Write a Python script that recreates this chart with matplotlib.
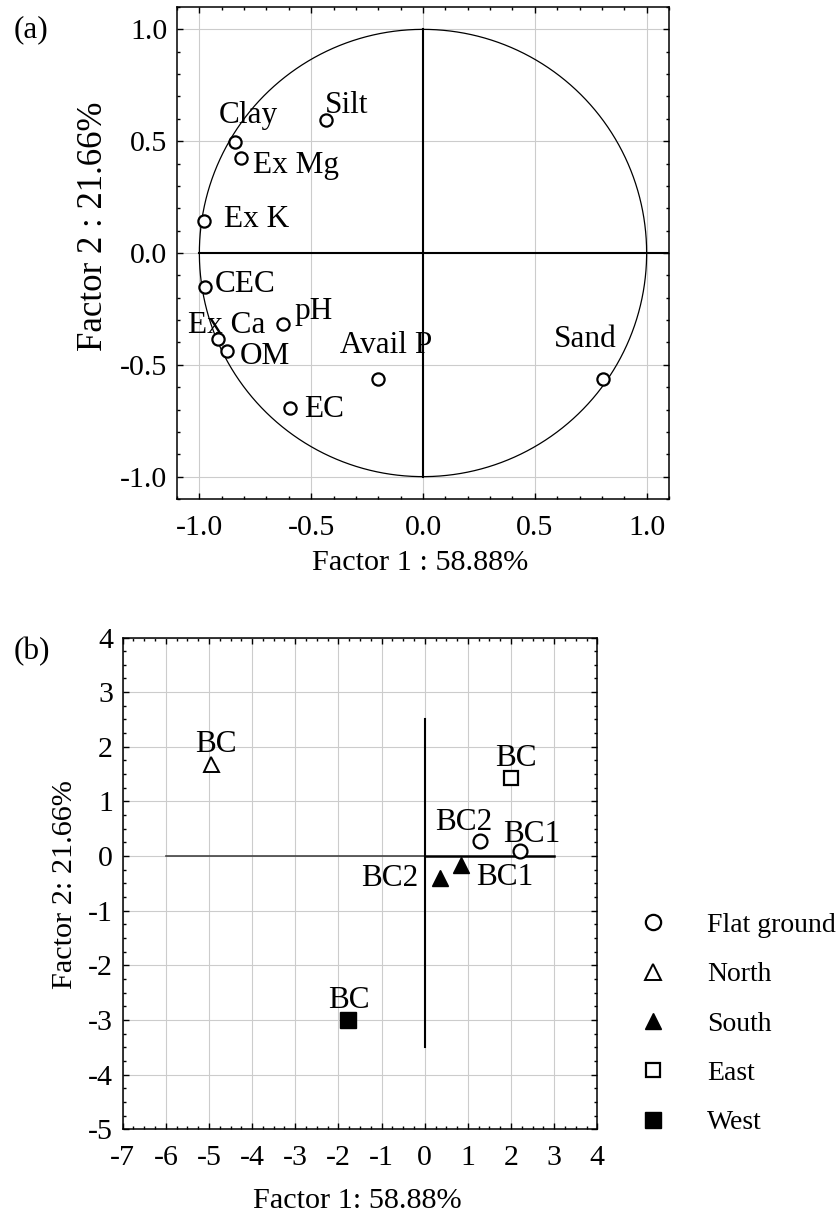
import matplotlib
matplotlib.use('Agg')
import matplotlib.pyplot as plt
import numpy as np
from matplotlib.ticker import MultipleLocator, FormatStrFormatter

plt.rcParams['font.family'] = ['Liberation Serif', 'DejaVu Serif']
plt.rcParams['font.size'] = 21
plt.rcParams['axes.unicode_minus'] = False

# ---------------- data: panel (a) variable loadings ----------------
variables = ['Silt', 'Clay', 'Ex Mg', 'Ex K', 'CEC', 'pH', 'Ex Ca', 'OM', 'Avail P', 'EC', 'Sand']
loading_f1 = [-0.432, -0.840, -0.813, -0.979, -0.975, -0.628, -0.915, -0.875, -0.201, -0.595, 0.804]
loading_f2 = [0.596, 0.495, 0.426, 0.142, -0.153, -0.317, -0.384, -0.437, -0.563, -0.693, -0.563]

# ---------------- data: panel (b) site scores ----------------
groups = ['Flat ground', 'North', 'South', 'East', 'West']
flat_labels = ['BC2', 'BC1']
flat_f1 = [1.28, 2.20]
flat_f2 = [0.27, 0.10]
north_labels = ['BC']
north_f1 = [-4.95]
north_f2 = [1.68]
south_labels = ['BC1', 'BC2']
south_f1 = [0.84, 0.36]
south_f2 = [-0.17, -0.41]
east_labels = ['BC']
east_f1 = [2.00]
east_f2 = [1.43]
west_labels = ['BC']
west_f1 = [-1.78]
west_f2 = [-3.00]

xlabel_a = 'Factor 1 : 58.88%'
ylabel_a = 'Factor 2 : 21.66%'
xlabel_b = 'Factor 1: 58.88%'
ylabel_b = 'Factor 2: 21.66%'

# ---------------- layout / styles ----------------
W, H = 838, 1215
fig = plt.figure(figsize=(W / 100, H / 100), dpi=100)
PX = 72 / 100.0  # points per pixel
FS_TICK = 21.5
FS_LAB = 21.8
FS_YLAB_A = 25
FS_TXT = 22.5
FS_LEG = 20

def ax_rect(l, r, t, b):
    return [l / W, 1 - b / H, (r - l) / W, (b - t) / H]


GRID = dict(color='#cccccc', lw=0.8, zorder=0)


def style_axes(ax, major, minor, xpad, ypad):
    ax.xaxis.set_major_locator(MultipleLocator(major))
    ax.yaxis.set_major_locator(MultipleLocator(major))
    ax.xaxis.set_minor_locator(MultipleLocator(minor))
    ax.yaxis.set_minor_locator(MultipleLocator(minor))
    ax.tick_params(which='both', direction='in', top=True, right=True, width=1, colors='black')
    ax.tick_params(which='major', length=4.5)
    ax.tick_params(which='minor', length=2.5)
    ax.tick_params(axis='x', which='major', pad=xpad, labelsize=FS_TICK)
    ax.tick_params(axis='y', which='major', pad=ypad, labelsize=FS_TICK)
    ax.grid(True, which='major', **GRID)
    ax.set_axisbelow(True)
    for s in ax.spines.values():
        s.set_linewidth(1.1)


# ================= panel (a) =================
axa = fig.add_axes(ax_rect(177, 669, 7, 499))
axa.set_xlim(-1.1, 1.1)
axa.set_ylim(-1.1, 1.1)
style_axes(axa, 0.5, 0.1, 11.5, 7.0)
axa.xaxis.set_major_formatter(FormatStrFormatter('%.1f'))
axa.yaxis.set_major_formatter(FormatStrFormatter('%.1f'))

theta = np.linspace(0, 2 * np.pi, 400)
axa.plot(np.cos(theta), np.sin(theta), color='black', lw=0.9, zorder=2)
axa.plot([-1, 1.1], [0, 0], color='black', lw=1.5, zorder=2)
axa.plot([0, 0], [-1, 1], color='black', lw=1.5, zorder=2)
axa.plot(loading_f1, loading_f2, linestyle='none', marker='o', ms=8.8, mfc='white',
         mec='black', mew=1.6, zorder=3)

# label offsets in pixels (dx, dy) from the point to the text baseline-left
label_off_a = [(-2, 7), (-16, 19), (12, -15), (20, -6), (10, -4.5), (12, 5),
               (-30, 6), (12, -13.3), (-38, 26), (14, -9.3), (-48.6, 31.7)]
for name, x, y, (dx, dy) in zip(variables, loading_f1, loading_f2, label_off_a):
    axa.annotate(name, (x, y), xytext=(dx * PX, dy * PX), textcoords='offset points',
                 ha='left', va='baseline', fontsize=FS_TXT, zorder=4)

axa.set_xlabel(xlabel_a, fontsize=FS_LAB)
axa.set_ylabel(ylabel_a, fontsize=FS_YLAB_A)
axa.xaxis.label.set(va='center', ha='center')
axa.yaxis.label.set(va='center', ha='center')
axa.xaxis.set_label_coords((420 - 177) / 492, (499 - 563) / 492)
axa.yaxis.set_label_coords((93 - 177) / 492, (499 - 226) / 492)
fig.text(31 / W, 1 - 30 / H, '(a)', ha='center', va='center', fontsize=22.5)

# ================= panel (b) =================
axb = fig.add_axes(ax_rect(122.7, 597.3, 637.5, 1129.3))
axb.set_xlim(-7, 4)
axb.set_ylim(-5, 4)
style_axes(axb, 1, 0.25, 11.5, 7.0)

axb.plot([-6, 0], [0, 0], color='#444444', lw=1.2, zorder=2)
axb.plot([0, 3], [0, 0], color='black', lw=1.8, zorder=2)
axb.plot([0, 0], [-3.5, 2.5], color='black', lw=1.5, zorder=2)

h_flat, = axb.plot(flat_f1, flat_f2, ls='none', marker='o', ms=10.0, mfc='white', mec='black', mew=1.6, zorder=3)
h_north, = axb.plot(north_f1, north_f2, ls='none', marker='^', ms=10.8, mfc='white', mec='black', mew=1.4, zorder=3)
h_south, = axb.plot(south_f1, south_f2, ls='none', marker='^', ms=11.8, mfc='black', mec='black', mew=1.0, zorder=3)
h_east, = axb.plot(east_f1, east_f2, ls='none', marker='s', ms=10.5, mfc='white', mec='black', mew=1.6, zorder=3)
h_west, = axb.plot(west_f1, west_f2, ls='none', marker='s', ms=12.2, mfc='black', mec='black', mew=1.0, zorder=3)

# (dx, dy) pixel offsets and alignment for point labels
lab_b = [
    (flat_labels, flat_f1, flat_f2, [(-16, 11.3, 'center'), (12.3, 9, 'center')]),
    (north_labels, north_f1, north_f2, [(5, 12.3, 'center')]),
    (south_labels, south_f1, south_f2, [(15, -19.7, 'left'), (-21.7, -7.7, 'right')]),
    (east_labels, east_f1, east_f2, [(5.3, 12.3, 'center')]),
    (west_labels, west_f1, west_f2, [(1.4, 11.7, 'center')]),
]
for labels, xs, ys, offs in lab_b:
    for name, x, y, (dx, dy, ha) in zip(labels, xs, ys, offs):
        axb.annotate(name, (x, y), xytext=(dx * PX, dy * PX), textcoords='offset points',
                     ha=ha, va='baseline', fontsize=FS_TXT, zorder=4)

axb.set_xlabel(xlabel_b, fontsize=FS_LAB)
axb.set_ylabel(ylabel_b, fontsize=FS_LAB)
axb.xaxis.label.set(va='center', ha='center')
axb.yaxis.label.set(va='center', ha='center')
axb.xaxis.set_label_coords((357.5 - 122.7) / 474.6, (1129.3 - 1201) / 491.7)
axb.yaxis.set_label_coords((65.5 - 122.7) / 474.6, (1129.3 - 885) / 491.7)
fig.text(32 / W, 1 - 652 / H, '(b)', ha='center', va='center', fontsize=22.5)

leg = fig.legend([h_flat, h_north, h_south, h_east, h_west], groups,
                 loc='center left', bbox_to_anchor=(639 / W, 1 - 1024 / H),
                 frameon=False, fontsize=FS_LEG, handlelength=1.0, handletextpad=1.44,
                 labelspacing=0.86, borderpad=0, borderaxespad=0, numpoints=1)
for hnd, ms in zip(leg.legend_handles, [11.0, 11.0, 11.0, 10.5, 11.0]):
    hnd.set_markersize(ms)

fig.savefig('out.png', dpi=100)
